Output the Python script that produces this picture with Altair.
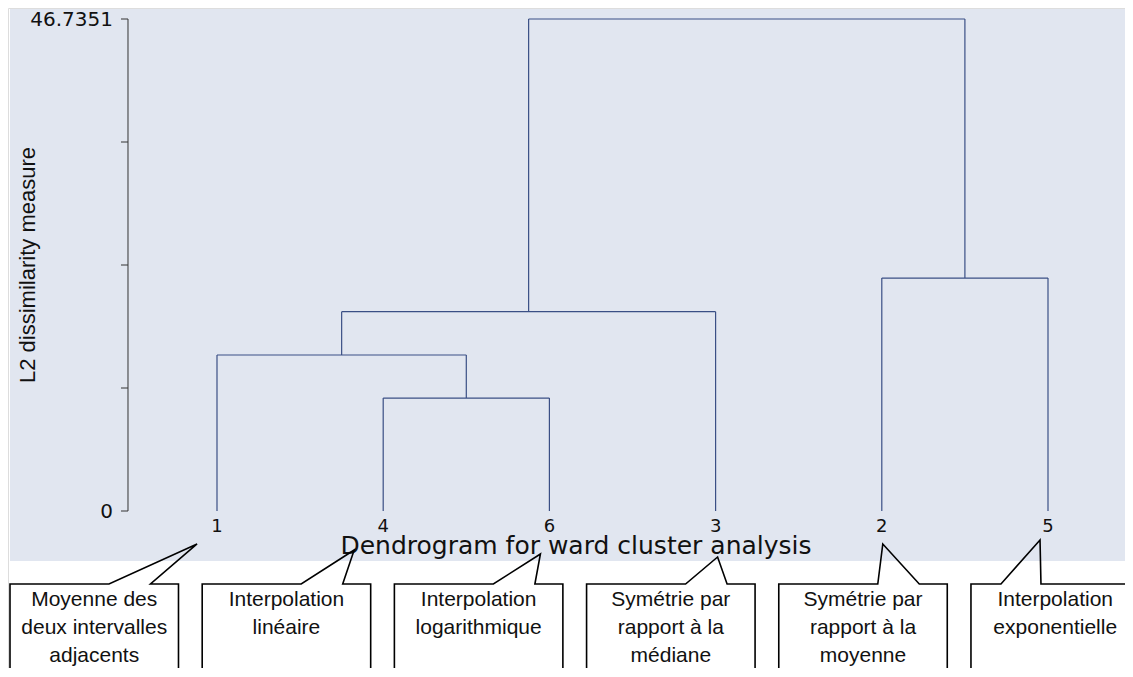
import altair as alt
import pandas as pd

# ---------------- data ----------------
leaf_labels = ["1", "4", "6", "3", "2", "5"]
merge_a = ["4", "1", "1+4+6", "2", "1+4+6+3"]
merge_b = ["6", "4+6", "3", "5", "2+5"]
merge_h = [10.73, 14.82, 18.93, 22.13, 46.7351]
y_max = 46.7351
y_ticks = [0, 11.683775, 23.36755, 35.051325, 46.7351]
y_tick_labels = ["0", "", "", "", "46.7351"]
y_title = "L2 dissimilarity measure"
x_title = "Dendrogram for ward cluster analysis"
callout_text = [
    ["Moyenne des", "deux intervalles", "adjacents"],
    ["Interpolation", "linéaire"],
    ["Interpolation", "logarithmique"],
    ["Symétrie par", "rapport à la", "médiane"],
    ["Symétrie par", "rapport à la", "moyenne"],
    ["Interpolation", "exponentielle"],
]
callout_leaf = ["1", "4", "6", "3", "2", "5"]
tip_dx = [-0.120, -0.1745, -0.054, 0.012, 0.006, -0.048]
tip_y = [-3.13, -3.70, -4.08, -4.37, -3.13, -2.75]
base_off = [(0.5957, 0.8454)] * 5 + [(0.1805, 0.4212)]

# ---------------- layout ----------------
W, H = 1117, 660
X_DOM = [-0.2575, 6.4633]
Y_DOM = [-14.913, 47.780]
PANEL = dict(x=-0.2455, x2=6.4633, y=-4.75, y2=47.685)
AXIS_X = 0.4645
TICK_LEN = 0.0421
LABEL_X = 0.3743
BOX_LEFT0, BOX_STEP, BOX_W = -0.2455, 1.1564, 1.0138
BOX_TOP, BOX_BOTTOM = -6.934, -16.5
TEXT_TOP, TEXT_STEP = -8.45, 2.68

LINE_COLOR = "#3a4f85"
AXIS_COLOR = "#333333"
BG = "#e1e6f0"

xscale = alt.Scale(domain=X_DOM, nice=False, zero=False)
yscale = alt.Scale(domain=Y_DOM, nice=False, zero=False)


def X(f):
    return alt.X(f, type="quantitative", scale=xscale, axis=None)


def Y(f):
    return alt.Y(f, type="quantitative", scale=yscale, axis=None)


# dendrogram geometry
pos = {lab: i + 1 for i, lab in enumerate(leaf_labels)}
hgt = {lab: 0.0 for lab in leaf_labels}
segs = []
for a, b, h in zip(merge_a, merge_b, merge_h):
    xa, xb = pos[a], pos[b]
    segs.append(dict(x=xa, x2=xa, y=hgt[a], y2=h))
    segs.append(dict(x=xb, x2=xb, y=hgt[b], y2=h))
    segs.append(dict(x=xa, x2=xb, y=h, y2=h))
    node = a + "+" + b
    pos[node] = (xa + xb) / 2
    hgt[node] = h
seg_df = pd.DataFrame(segs)

leaf_df = pd.DataFrame({"x": [pos[l] for l in leaf_labels], "y": 0.0, "label": leaf_labels})

tick_df = pd.DataFrame({"y": y_ticks, "label": y_tick_labels,
                        "x": AXIS_X - TICK_LEN, "x2": AXIS_X, "lx": LABEL_X})

# callouts
pts, txt = [], []
for i, lines in enumerate(callout_text):
    L = BOX_LEFT0 + i * BOX_STEP
    R = L + BOX_W
    b1, b2 = base_off[i]
    tx = pos[callout_leaf[i]] + tip_dx[i]
    ty = tip_y[i]
    poly = [(L, BOX_BOTTOM), (L, BOX_TOP), (L + b1, BOX_TOP), (tx, ty),
            (L + b2, BOX_TOP), (R, BOX_TOP), (R, BOX_BOTTOM)]
    for k, (px, py) in enumerate(poly):
        pts.append(dict(box=i, k=k, x=px, y=py))
    for j, s in enumerate(lines):
        txt.append(dict(box=i, x=L + BOX_W / 2, y=TEXT_TOP - j * TEXT_STEP, t=s))
pts_df = pd.DataFrame(pts)
txt_df = pd.DataFrame(txt)

panel = alt.Chart(pd.DataFrame([PANEL])).mark_rect(color=BG).encode(
    x=X("x"), x2="x2", y=Y("y"), y2="y2")

axis_line = alt.Chart(pd.DataFrame([dict(x=AXIS_X, y=0.0, y2=y_max)])).mark_rule(
    color=AXIS_COLOR, strokeWidth=1).encode(x=X("x"), y=Y("y"), y2="y2")

ticks = alt.Chart(tick_df).mark_rule(color=AXIS_COLOR, strokeWidth=1).encode(
    x=X("x"), x2="x2", y=Y("y"))

tick_labels = alt.Chart(tick_df).mark_text(
    font="DejaVu Sans", fontSize=20, color="#111111", align="right", baseline="middle", dy=1).encode(
    x=X("lx"), y=Y("y"), text="label:N")

dendro = alt.Chart(seg_df).mark_rule(color=LINE_COLOR, strokeWidth=1.2).encode(
    x=X("x"), x2="x2", y=Y("y"), y2="y2")

leaves = alt.Chart(leaf_df).mark_text(
    font="DejaVu Sans", fontSize=18, color="#111111", dy=16, baseline="middle").encode(
    x=X("x"), y=Y("y"), text="label:N")

xt = alt.Chart(pd.DataFrame([dict(x=3.16, y=0.0, t=x_title)])).mark_text(
    font="DejaVu Sans", fontSize=25, color="#111111", dy=35, baseline="middle").encode(
    x=X("x"), y=Y("y"), text="t:N")

yt = alt.Chart(pd.DataFrame([dict(x=-0.140, y=y_max / 2, t=y_title)])).mark_text(
    font="Liberation Sans", fontSize=22, color="#111111", angle=270, baseline="middle").encode(
    x=X("x"), y=Y("y"), text="t:N")

call_lines = alt.Chart(pts_df).mark_line(color="#000000", strokeWidth=1.6, clip=True).encode(
    x=X("x"), y=Y("y"), detail="box:N", order="k:Q")

call_text = alt.Chart(txt_df).mark_text(
    font="Liberation Sans", fontSize=21, color="#111111",
    baseline="middle").encode(x=X("x"), y=Y("y"), text="t:N")

chart = alt.layer(panel, axis_line, ticks, tick_labels, dendro, leaves, xt, yt,
                  call_lines, call_text).properties(
    width=W, height=H, autosize=alt.AutoSizeParams(type="none"), padding=0
).configure_view(stroke=None).configure(background="white")

chart.save("out.html", embed_options={"renderer": "svg", "actions": False})
